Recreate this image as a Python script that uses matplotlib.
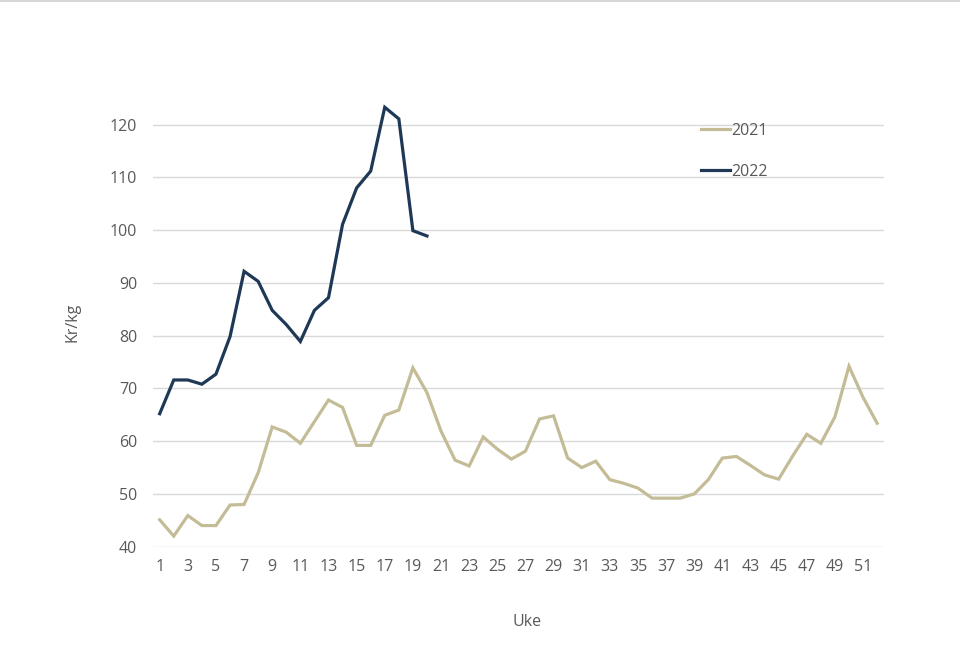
import numpy as np
import matplotlib
matplotlib.use("Agg")
import matplotlib.pyplot as plt
from matplotlib.lines import Line2D

# weekly prices, Kr/kg
weeks_2021 = list(range(1, 53))
price_2021 = [45.1, 42.0, 45.9, 44.0, 44.0, 47.9, 48.0, 54.0, 62.7, 61.7,
              59.6, 63.7, 67.8, 66.4, 59.2, 59.2, 64.9, 65.9, 73.9, 69.2,
              61.9, 56.4, 55.3, 60.8, 58.5, 56.6, 58.1, 64.2, 64.8, 56.8,
              55.0, 56.2, 52.7, 52.0, 51.1, 49.2, 49.2, 49.2, 50.0, 52.7,
              56.8, 57.1, 55.4, 53.6, 52.8, 57.2, 61.3, 59.6, 64.6, 74.2,
              68.3, 63.4]
weeks_2022 = list(range(1, 21))
price_2022 = [65.2, 71.6, 71.6, 70.8, 72.7, 79.8, 92.2, 90.3, 84.8, 82.1,
              78.9, 84.8, 87.2, 101.1, 108.0, 111.2, 123.3, 121.1, 99.9, 98.9]
series_names = ["2021", "2022"]
x_ticks = list(range(1, 52, 2))
y_ticks = [40, 50, 60, 70, 80, 90, 100, 110, 120]

col_2021 = "#C4BC96"
col_2022 = "#1F3856"
txt_col = "#595959"
fs = 11.5

plt.rcParams["font.family"] = ["Open Sans", "DejaVu Sans"]

fig = plt.figure(figsize=(9.6, 6.64), dpi=100)
ax = fig.add_axes([0.159, 0.1767, 0.762, 0.6753])

ax.plot(weeks_2021, price_2021, color=col_2021, lw=2.3, label=series_names[0],
        solid_joinstyle="miter")
ax.plot(weeks_2022, price_2022, color=col_2022, lw=2.3, label=series_names[1],
        solid_joinstyle="miter")

ax.set_xlim(0.5, 52.5)
ax.set_ylim(40, 125)
ax.set_xticks(x_ticks)
ax.set_yticks(y_ticks)
ax.grid(axis="y", color="#D9D9D9", lw=1)
ax.set_axisbelow(True)
for s in ax.spines.values():
    s.set_visible(False)
ax.tick_params(length=0, colors=txt_col, labelsize=fs)
ax.tick_params(axis="y", pad=11)
ax.tick_params(axis="x", pad=9)

handles = [Line2D([], [], color=col_2021, lw=2.3),
           Line2D([], [], color=col_2022, lw=2.3)]
leg = fig.legend(handles, series_names, loc="upper left",
                 bbox_to_anchor=(0.730, 0.815), frameon=False,
                 borderpad=0, borderaxespad=0, handlelength=1.85,
                 handletextpad=0.05, labelspacing=1.55, fontsize=fs)
for t in leg.get_texts():
    t.set_color(txt_col)

fig.text(72 / 960, (664 - 322) / 664, "Kr/kg", rotation=90, ha="center",
         va="center", color=txt_col, fontsize=fs)
fig.text(527 / 960, (664 - 622) / 664, "Uke", ha="center", va="center",
         color=txt_col, fontsize=fs)

# thin frame line at the very top
fig.add_artist(Line2D([0, 1], [0.999, 0.999], transform=fig.transFigure,
                      color="#D0D0D0", lw=1.2))

fig.savefig("out.png", dpi=100)
